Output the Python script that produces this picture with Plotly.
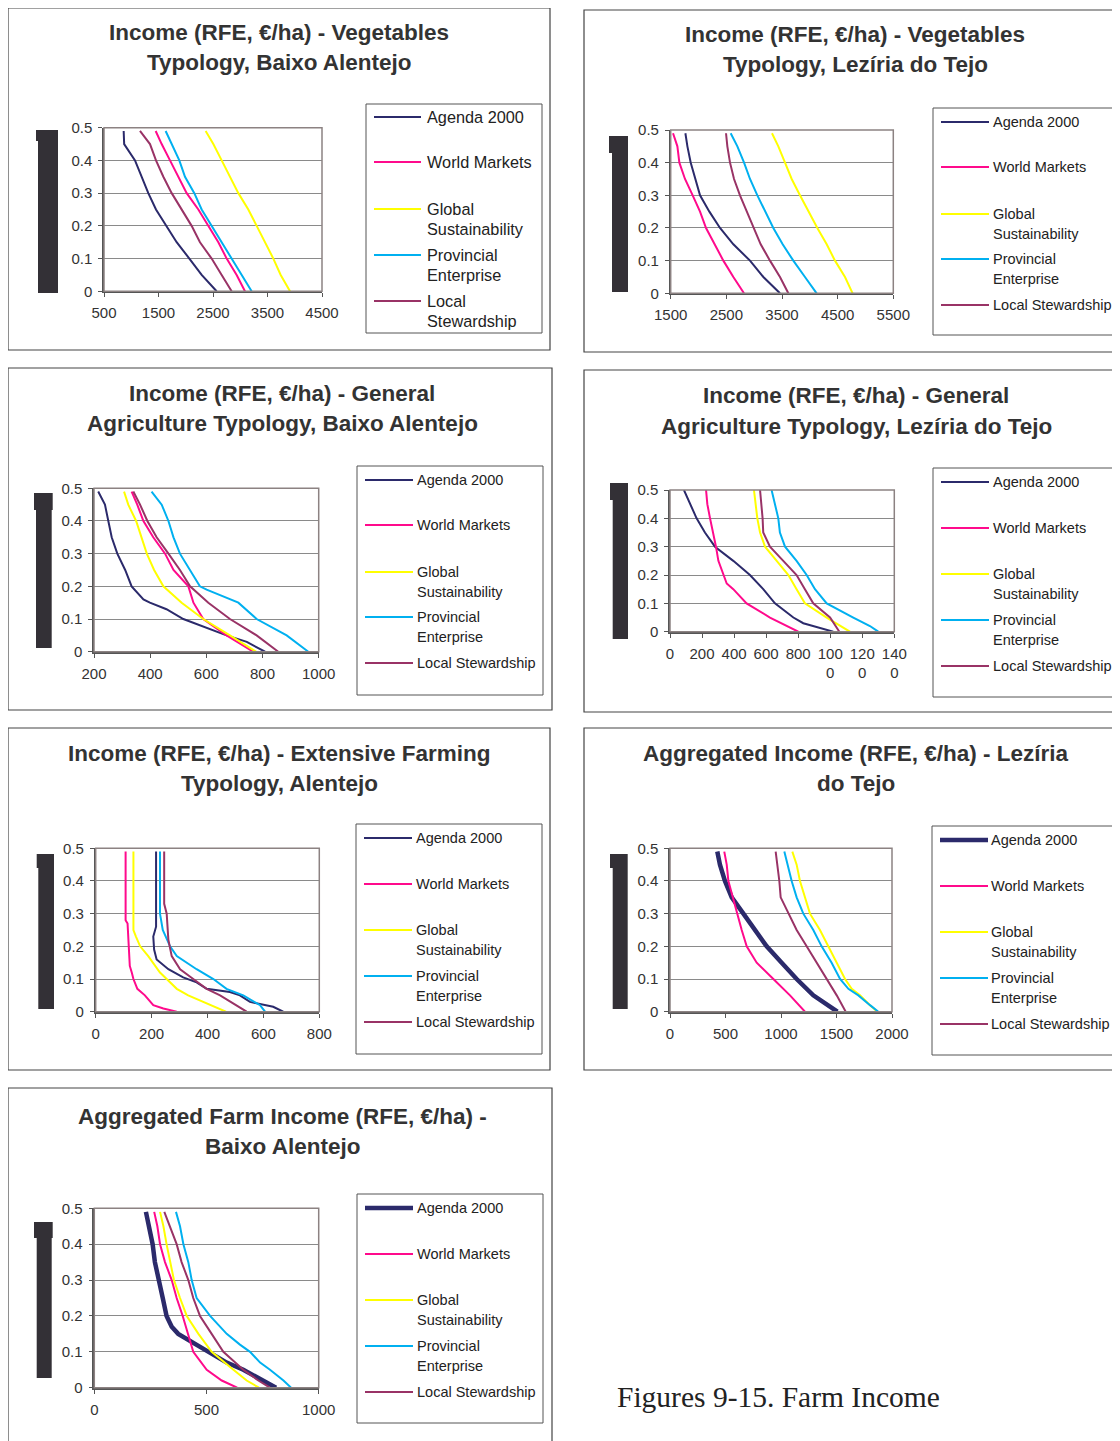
import plotly.graph_objects as go

W, H = 1120, 1441
PAGE_OFFSET = 8  # the page body margin shifts the figure by this many pixels

SCENARIOS = ["Agenda 2000", "World Markets", "Global Sustainability",
             "Provincial Enterprise", "Local Stewardship"]
COLORS = ["#2b2a6b", "#ff0a8c", "#ffff00", "#00b0f0", "#993366"]

# ---------------- Panel 1: Vegetables, Baixo Alentejo ----------------
P1_Y = [0.49, 0.45, 0.40, 0.35, 0.30, 0.25, 0.20, 0.15, 0.10, 0.05, 0.0]
P1_AGENDA = [861, 870, 1069, 1191, 1313, 1454, 1650, 1833, 2066, 2292, 2567]
P1_WORLD = [1448, 1558, 1711, 1864, 2017, 2231, 2414, 2598, 2751, 2934, 3087]
P1_GLOBAL = [2365, 2506, 2659, 2812, 2965, 3148, 3301, 3454, 3607, 3742, 3913]
P1_PROV = [1631, 1741, 1882, 1986, 2157, 2292, 2475, 2659, 2842, 3026, 3209]
P1_LOCAL = [1160, 1344, 1454, 1589, 1742, 1925, 2108, 2261, 2475, 2659, 2842]
P1_XTICKS = [500, 1500, 2500, 3500, 4500]

# ---------------- Panel 2: Vegetables, Lezíria do Tejo ----------------
P2_Y = [0.49, 0.45, 0.40, 0.35, 0.30, 0.25, 0.20, 0.15, 0.10, 0.05, 0.0]
P2_AGENDA = [1764, 1800, 1860, 1950, 2027, 2195, 2386, 2626, 2925, 3165, 3464]
P2_WORLD = [1542, 1620, 1656, 1757, 1895, 2027, 2135, 2296, 2446, 2626, 2817]
P2_GLOBAL = [3320, 3434, 3554, 3674, 3823, 3973, 4135, 4303, 4452, 4632, 4769]
P2_PROV = [2578, 2698, 2818, 2925, 3057, 3195, 3344, 3512, 3703, 3913, 4123]
P2_LOCAL = [2494, 2518, 2566, 2638, 2745, 2865, 2997, 3117, 3284, 3464, 3614]
P2_XTICKS = [1500, 2500, 3500, 4500, 5500]

# ---------------- Panel 3: General Agriculture, Baixo Alentejo ----------------
P3_Y = [0.49, 0.45, 0.40, 0.35, 0.30, 0.25, 0.20, 0.15, 0.10, 0.05, 0.0]
P3_AGENDA_Y = [0.49, 0.45, 0.40, 0.35, 0.30, 0.25, 0.20, 0.16, 0.15, 0.13, 0.10, 0.07, 0.05, 0.03, 0.0]
P3_AGENDA = [215, 239, 251, 263, 283, 311, 334, 376, 399, 458, 518, 613, 672, 744, 809]
P3_WORLD = [334, 354, 376, 411, 453, 483, 536, 554, 589, 672, 767]
P3_GLOBAL = [307, 322, 350, 370, 388, 414, 447, 512, 589, 684, 777]
P3_PROV_Y = [0.49, 0.45, 0.40, 0.35, 0.30, 0.25, 0.20, 0.19, 0.15, 0.10, 0.05, 0.0]
P3_PROV = [405, 441, 465, 483, 506, 542, 577, 601, 714, 779, 886, 963]
P3_LOCAL = [340, 364, 390, 423, 465, 506, 542, 607, 684, 779, 856]
P3_XTICKS = [200, 400, 600, 800, 1000]

# ---------------- Panel 4: General Agriculture, Lezíria do Tejo ----------------
P4_Y = [0.50, 0.45, 0.40, 0.35, 0.30, 0.25, 0.20, 0.15, 0.10, 0.05, 0.0]
P4_AGENDA_Y = [0.50, 0.45, 0.40, 0.35, 0.30, 0.25, 0.20, 0.15, 0.10, 0.05, 0.03, 0.0]
P4_AGENDA = [87, 125, 166, 218, 281, 395, 499, 582, 655, 770, 832, 1019]
P4_WORLD_Y = [0.50, 0.45, 0.40, 0.35, 0.30, 0.25, 0.20, 0.17, 0.15, 0.10, 0.05, 0.0]
P4_WORLD = [225, 233, 250, 270, 287, 302, 333, 354, 395, 478, 624, 801]
P4_GLOBAL = [524, 535, 545, 562, 593, 666, 739, 790, 842, 978, 1123]
P4_PROV_Y = [0.50, 0.45, 0.40, 0.35, 0.30, 0.25, 0.20, 0.15, 0.10, 0.05, 0.02, 0.0]
P4_PROV = [634, 655, 676, 686, 718, 790, 853, 905, 978, 1144, 1248, 1300]
P4_LOCAL = [562, 572, 578, 582, 624, 707, 790, 842, 894, 999, 1057]
P4_XTICKS = [0, 200, 400, 600, 800, 1000, 1200, 1400]
P4_XTICKTEXT = ["0", "200", "400", "600", "800", "100<br>0", "120<br>0", "140<br>0"]

# ---------------- Panel 5: Extensive Farming, Alentejo ----------------
P5_AGENDA_Y = [0.49, 0.26, 0.23, 0.19, 0.16, 0.13, 0.105, 0.09, 0.07, 0.06, 0.05, 0.03, 0.015, 0.0]
P5_AGENDA = [216, 216, 206, 209, 218, 260, 313, 361, 397, 480, 516, 552, 635, 671]
P5_WORLD_Y = [0.49, 0.28, 0.27, 0.20, 0.19, 0.14, 0.12, 0.10, 0.07, 0.05, 0.02, 0.01, 0.0]
P5_WORLD = [107, 107, 114, 117, 120, 122, 129, 135, 149, 176, 206, 242, 290]
P5_GLOBAL_Y = [0.49, 0.25, 0.23, 0.20, 0.17, 0.15, 0.12, 0.10, 0.07, 0.05, 0.02, 0.0]
P5_GLOBAL = [135, 135, 144, 159, 188, 206, 230, 254, 290, 331, 409, 466]
P5_PROV_Y = [0.49, 0.30, 0.25, 0.20, 0.17, 0.13, 0.10, 0.07, 0.05, 0.02, 0.0]
P5_PROV = [230, 230, 240, 266, 290, 361, 421, 468, 528, 588, 606]
P5_LOCAL_Y = [0.49, 0.33, 0.30, 0.22, 0.17, 0.13, 0.10, 0.07, 0.05, 0.02, 0.0]
P5_LOCAL = [245, 245, 254, 260, 272, 302, 349, 397, 445, 504, 540]
P5_XTICKS = [0, 200, 400, 600, 800]

# ---------------- Panel 6: Aggregated, Lezíria do Tejo ----------------
P6_Y = [0.49, 0.45, 0.40, 0.35, 0.30, 0.25, 0.20, 0.15, 0.10, 0.05, 0.0]
P6_AGENDA_Y = [0.49, 0.45, 0.40, 0.35, 0.30, 0.25, 0.20, 0.15, 0.10, 0.05, 0.02, 0.0]
P6_AGENDA = [426, 450, 495, 556, 661, 766, 871, 1006, 1141, 1291, 1411, 1508]
P6_WORLD = [489, 511, 526, 565, 601, 646, 691, 781, 931, 1081, 1216]
P6_LOCAL = [952, 967, 985, 997, 1066, 1141, 1231, 1321, 1411, 1502, 1583]
P6_PG_Y = [0.49, 0.45, 0.40, 0.35, 0.30, 0.25, 0.20, 0.15, 0.10, 0.07, 0.05, 0.02, 0.0]
P6_PROV = [1030, 1060, 1096, 1141, 1201, 1291, 1366, 1456, 1532, 1607, 1697, 1802, 1877]
P6_GLOBAL = [1102, 1141, 1171, 1216, 1261, 1351, 1426, 1502, 1577, 1637, 1712, 1802, 1868]
P6_XTICKS = [0, 500, 1000, 1500, 2000]

# ---------------- Panel 7: Aggregated, Baixo Alentejo ----------------
P7_Y = [0.49, 0.45, 0.40, 0.35, 0.30, 0.25, 0.20, 0.15, 0.10, 0.05, 0.02, 0.0]
P7_AGENDA_Y = [0.49, 0.45, 0.40, 0.35, 0.30, 0.25, 0.20, 0.17, 0.15, 0.13, 0.10, 0.07, 0.05, 0.02, 0.0]
P7_AGENDA = [230, 245, 260, 270, 285, 305, 322, 345, 374, 427, 501, 590, 664, 753, 810]
P7_WORLD = [267, 281, 293, 315, 345, 367, 394, 419, 441, 501, 568, 637]
P7_GLOBAL = [293, 308, 322, 337, 355, 382, 412, 464, 523, 620, 679, 734]
P7_LOCAL = [312, 337, 367, 389, 419, 441, 471, 523, 575, 664, 731, 783]
P7_PROV_Y = [0.49, 0.45, 0.40, 0.35, 0.30, 0.25, 0.20, 0.15, 0.12, 0.10, 0.07, 0.05, 0.02, 0.0]
P7_PROV = [364, 382, 397, 419, 434, 456, 516, 590, 649, 694, 739, 783, 843, 877]
P7_XTICKS = [0, 500, 1000]

Y_TICKS = [0, 0.1, 0.2, 0.3, 0.4, 0.5]
Y_TICKTEXT = ["0", "0.1", "0.2", "0.3", "0.4", "0.5"]

# series per panel: (x, y) in order of SCENARIOS
SERIES = [
    [(P1_AGENDA, P1_Y), (P1_WORLD, P1_Y), (P1_GLOBAL, P1_Y), (P1_PROV, P1_Y), (P1_LOCAL, P1_Y)],
    [(P2_AGENDA, P2_Y), (P2_WORLD, P2_Y), (P2_GLOBAL, P2_Y), (P2_PROV, P2_Y), (P2_LOCAL, P2_Y)],
    [(P3_AGENDA, P3_AGENDA_Y), (P3_WORLD, P3_Y), (P3_GLOBAL, P3_Y), (P3_PROV, P3_PROV_Y), (P3_LOCAL, P3_Y)],
    [(P4_AGENDA, P4_AGENDA_Y), (P4_WORLD, P4_WORLD_Y), (P4_GLOBAL, P4_Y), (P4_PROV, P4_PROV_Y), (P4_LOCAL, P4_Y)],
    [(P5_AGENDA, P5_AGENDA_Y), (P5_WORLD, P5_WORLD_Y), (P5_GLOBAL, P5_GLOBAL_Y), (P5_PROV, P5_PROV_Y), (P5_LOCAL, P5_LOCAL_Y)],
    [(P6_AGENDA, P6_AGENDA_Y), (P6_WORLD, P6_Y), (P6_GLOBAL, P6_PG_Y), (P6_PROV, P6_PG_Y), (P6_LOCAL, P6_Y)],
    [(P7_AGENDA, P7_AGENDA_Y), (P7_WORLD, P7_Y), (P7_GLOBAL, P7_Y), (P7_PROV, P7_PROV_Y), (P7_LOCAL, P7_Y)],
]

TITLES = [
    ["Income (RFE, €/ha) - Vegetables", "Typology, Baixo Alentejo"],
    ["Income (RFE, €/ha) - Vegetables", "Typology, Lezíria do Tejo"],
    ["Income (RFE, €/ha) - General", "Agriculture Typology, Baixo Alentejo"],
    ["Income (RFE, €/ha) - General", "Agriculture Typology, Lezíria do Tejo"],
    ["Income (RFE, €/ha) - Extensive Farming", "Typology, Alentejo"],
    ["Aggregated Income (RFE, €/ha) - Lezíria", "do Tejo"],
    ["Aggregated Farm Income (RFE, €/ha) -", "Baixo Alentejo"],
]
CAPTION = "Figures 9-15. Farm Income"

# ---------------- layout geometry (pixels, in reference image coordinates) ----------------
WRAP_ALL = [["Agenda 2000"], ["World Markets"], ["Global", "Sustainability"],
            ["Provincial", "Enterprise"], ["Local", "Stewardship"]]
WRAP_STD = [["Agenda 2000"], ["World Markets"], ["Global", "Sustainability"],
            ["Provincial", "Enterprise"], ["Local Stewardship"]]

GEOM = [
    dict(box=(8, 8, 550, 350), plot=(104, 127.7, 322, 291.3), xr=(500, 4500), xt=P1_XTICKS, xtt=None,
         ty=(33, 63), tcx=279, leg=(366, 104, 542, 333), lx=(374, 421), tx=425,
         ly=[117, 162, 209, 255, 301], lfs=16.3, wrap=WRAP_ALL, thick=False,
         bar=[(36, 130, 58, 141), (38, 141, 58, 293)]),
    dict(box=(584, 10, 1140, 352), plot=(670.7, 130, 893.3, 293.3), xr=(1500, 5500), xt=P2_XTICKS, xtt=None,
         ty=(35, 65), tcx=855, leg=(933, 108, 1119.5, 335), lx=(941, 989), tx=991,
         ly=[122, 167, 214, 259, 305], lfs=14.5, wrap=WRAP_STD, thick=False,
         bar=[(609, 136, 628, 153), (612, 153, 628, 292)]),
    dict(box=(8, 368, 552, 710), plot=(94, 488.3, 318.7, 651.7), xr=(200, 1000), xt=P3_XTICKS, xtt=None,
         ty=(393, 423), tcx=282, leg=(357, 466, 543, 695), lx=(365, 413), tx=415,
         ly=[480, 525, 572, 617, 663], lfs=14.5, wrap=WRAP_STD, thick=False,
         bar=[(34, 493, 52.7, 510), (36, 510, 51.7, 648)]),
    dict(box=(584, 370, 1140, 712), plot=(670, 490, 894.3, 631.7), xr=(0, 1400), xt=P4_XTICKS, xtt=P4_XTICKTEXT,
         ty=(395, 426), tcx=856, leg=(933, 468, 1119.5, 697), lx=(941, 989), tx=991,
         ly=[482, 528, 574, 620, 666], lfs=14.5, wrap=WRAP_STD, thick=False,
         bar=[(610, 483, 628, 500), (612.7, 500, 628, 639)]),
    dict(box=(8, 728, 550, 1070), plot=(95.7, 848.3, 319.3, 1011.7), xr=(0, 800), xt=P5_XTICKS, xtt=None,
         ty=(753, 784), tcx=279, leg=(356, 824, 542, 1054), lx=(364, 412), tx=414,
         ly=[838, 884, 930, 976, 1022], lfs=14.5, wrap=WRAP_STD, thick=False,
         bar=[(36.7, 854, 54, 868), (38.3, 868, 54, 1009)]),
    dict(box=(584, 728, 1140, 1070), plot=(670, 848.3, 892, 1011.7), xr=(0, 2000), xt=P6_XTICKS, xtt=None,
         ty=(754, 784), tcx=856, leg=(932, 826, 1118, 1055), lx=(940, 988), tx=989,
         ly=[840, 886, 932, 978, 1024], lfs=14.5, wrap=WRAP_STD, thick=True,
         bar=[(610, 854, 627.7, 868), (612.7, 868, 627.7, 1009)]),
    dict(box=(8, 1088, 552, 1460), plot=(94.3, 1208.3, 318.7, 1387.7), xr=(0, 1000), xt=P7_XTICKS, xtt=None,
         ty=(1116, 1146), tcx=282, leg=(357, 1194, 543, 1423), lx=(365, 413), tx=415,
         ly=[1208, 1254, 1300, 1346, 1392], lfs=14.5, wrap=WRAP_STD, thick=True,
         bar=[(34, 1222, 52.7, 1238), (36.7, 1238, 51.7, 1378)]),
]

FONT = "Liberation Sans, Arial, sans-serif"
TICK_COLOR = "#333333"
GRID = "#8a8a8a"
FRAME = "#8c8282"
AXIS = "#555555"


def fx(x):
    return (x - PAGE_OFFSET) / W


def fy(y):
    return 1 - (y - PAGE_OFFSET) / H


fig = go.Figure()
shapes = []
annotations = []
layout_axes = {}

for i, (g, series) in enumerate(zip(GEOM, SERIES), start=1):
    xa = "x" if i == 1 else f"x{i}"
    ya = "y" if i == 1 else f"y{i}"
    xkey = "xaxis" if i == 1 else f"xaxis{i}"
    ykey = "yaxis" if i == 1 else f"yaxis{i}"
    x0, y0, x1, y1 = g["plot"]

    # outer panel box
    bx0, by0, bx1, by1 = g["box"]
    shapes.append(dict(type="rect", xref="paper", yref="paper", x0=fx(bx0), x1=fx(bx1),
                       y0=fy(by1), y1=fy(by0), line=dict(color="#444444", width=1.2),
                       fillcolor="rgba(0,0,0,0)", layer="below"))

    # plot area frame
    shapes.append(dict(type="rect", xref="paper", yref="paper", x0=fx(x0), x1=fx(x1),
                       y0=fy(y1), y1=fy(y0), line=dict(color=FRAME, width=1.5),
                       fillcolor="rgba(0,0,0,0)", layer="above"))

    # y-axis title remnant blocks
    for (rx0, ry0, rx1, ry1) in g["bar"]:
        shapes.append(dict(type="rect", xref="paper", yref="paper", x0=fx(rx0), x1=fx(rx1),
                           y0=fy(ry1), y1=fy(ry0), line=dict(width=0),
                           fillcolor="#333036", layer="above"))

    for k, ((xs, ys), name, color) in enumerate(zip(series, SCENARIOS, COLORS)):
        width = 4.5 if (k == 0 and g["thick"]) else 2
        fig.add_trace(go.Scatter(x=xs, y=ys, mode="lines", name=name,
                                 line=dict(color=color, width=width),
                                 xaxis=xa, yaxis=ya, showlegend=False,
                                 hoverinfo="skip"))

    xaxis = dict(domain=[fx(x0), fx(x1)], range=list(g["xr"]), anchor=ya,
                 automargin=False,
                 tickmode="array", tickvals=g["xt"],
                 showgrid=False, zeroline=False, showline=True,
                 linecolor=AXIS, linewidth=2, ticks="outside", ticklen=4,
                 tickcolor=AXIS, tickwidth=1,
                 tickfont=dict(family=FONT, size=15, color=TICK_COLOR),
                 ticklabelstandoff=3, fixedrange=True)
    if g["xtt"]:
        xaxis["ticktext"] = g["xtt"]
    layout_axes[xkey] = xaxis
    layout_axes[ykey] = dict(domain=[fy(y1), fy(y0)], range=[0, 0.5], anchor=xa,
                             automargin=False,
                             tickmode="array", tickvals=Y_TICKS, ticktext=Y_TICKTEXT,
                             showgrid=True, gridcolor=GRID, gridwidth=1.3,
                             zeroline=False, showline=True, linecolor=AXIS, linewidth=1.5,
                             ticks="outside", ticklen=4, tickcolor=AXIS,
                             tickfont=dict(family=FONT, size=15, color=TICK_COLOR),
                             ticklabelstandoff=3, fixedrange=True)

    # title
    for line_text, ty in zip(TITLES[i - 1], g["ty"]):
        annotations.append(dict(text=f"<b>{line_text}</b>", xref="paper", yref="paper",
                                x=fx(g["tcx"]), y=fy(ty), xanchor="center", yanchor="middle",
                                showarrow=False,
                                font=dict(family=FONT, size=22.5, color="#333333")))

    # legend box
    lx0, ly0, lx1, ly1 = g["leg"]
    shapes.append(dict(type="rect", xref="paper", yref="paper", x0=fx(lx0), x1=fx(lx1),
                       y0=fy(ly1), y1=fy(ly0), line=dict(color="#555555", width=1),
                       fillcolor="rgba(0,0,0,0)"))
    for k, (name, color) in enumerate(zip(SCENARIOS, COLORS)):
        yy = g["ly"][k]
        lw = 4.5 if (k == 0 and g["thick"]) else 2
        shapes.append(dict(type="line", xref="paper", yref="paper",
                           x0=fx(g["lx"][0]), x1=fx(g["lx"][1]), y0=fy(yy), y1=fy(yy),
                           line=dict(color=color, width=lw)))
        for j, part in enumerate(g["wrap"][k]):
            annotations.append(dict(text=part, xref="paper", yref="paper",
                                    x=fx(g["tx"]), y=fy(yy + 20 * j), xanchor="left",
                                    yanchor="middle", showarrow=False,
                                    font=dict(family=FONT, size=g["lfs"], color="#222222")))

annotations.append(dict(text=CAPTION, xref="paper", yref="paper", x=fx(615), y=fy(1397),
                        xanchor="left", yanchor="middle", showarrow=False,
                        font=dict(family="Liberation Serif, Times New Roman, serif",
                                  size=29.5, color="#222222")))

fig.update_layout(width=W, height=H, autosize=False,
                  margin=dict(l=0, r=0, t=0, b=0, pad=0),
                  paper_bgcolor="white", plot_bgcolor="white",
                  shapes=shapes, annotations=annotations, showlegend=False,
                  **layout_axes)

fig.write_html("out.html", config={"displayModeBar": False})
